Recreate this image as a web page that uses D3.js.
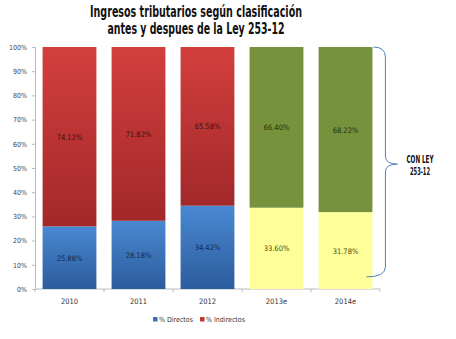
<!DOCTYPE html>
<html>
<head>
<meta charset="utf-8">
<script src="https://cdn.jsdelivr.net/npm/d3@7"></script>
<style>
  body { margin: 0; background: #fff; }
  svg { display: block; }
  text { font-family: "DejaVu Sans Condensed", "Liberation Sans", sans-serif; }
</style>
</head>
<body>
<script>
// data: share of tax income by type, per year
var years     = ['2010', '2011', '2012', '2013e', '2014e'];
var directos  = [25.88, 28.18, 34.42, 33.60, 31.78];
var indirectos = [74.12, 71.82, 65.58, 66.40, 68.22];
var estimated = [false, false, false, true, true];
var yTicks    = [0, 10, 20, 30, 40, 50, 60, 70, 80, 90, 100];
var titleLines = ['Ingresos tributarios según clasificación', 'antes y despues de la Ley 253-12'];
var legendItems = ['% Directos', '% Indirectos'];
var braceLabel = ['CON LEY', '253-12'];

var W = 456, H = 339;
var m = { top: 47, left: 35, right: 76, bottom: 50 };

var svg = d3.select('body').append('svg')
  .attr('width', W)
  .attr('height', H);

var defs = svg.append('defs');

// vertical gradients for the actual-year bars
function grad(id, c0, c1) {
  var g = defs.append('linearGradient')
    .attr('id', id)
    .attr('x1', 0).attr('y1', 0).attr('x2', 0).attr('y2', 1);
  g.append('stop').attr('offset', '0%').attr('stop-color', c0);
  g.append('stop').attr('offset', '100%').attr('stop-color', c1);
}
grad('gRed', '#d33f3d', '#a2282a');
grad('gBlue', '#4a88d2', '#2c5c9c');

var x = d3.scaleBand()
  .domain(years)
  .range([m.left, W - m.right])
  .paddingInner(0.22)
  .paddingOuter(0.11);

var y = d3.scaleLinear()
  .domain([0, 100])
  .range([H - m.bottom, m.top]);

// title, squeezed to a narrow face
var titleW = [212, 177];
svg.append('g').selectAll('text')
  .data(titleLines)
  .enter().append('text')
  .attr('x', 196)
  .attr('y', (d, i) => 17 + i * 17)
  .attr('text-anchor', 'middle')
  .attr('font-size', 15)
  .attr('font-weight', 'bold')
  .attr('fill', '#111')
  .attr('textLength', (d, i) => titleW[i])
  .attr('lengthAdjust', 'spacingAndGlyphs')
  .text(d => d);

// y axis
var yAxis = svg.append('g')
  .attr('transform', 'translate(' + m.left + ',0)')
  .call(d3.axisLeft(y).tickValues(yTicks).tickSize(3).tickFormat(d => d + '%'));
yAxis.select('.domain').attr('stroke', '#bbb');
yAxis.selectAll('.tick line').attr('stroke', '#bbb');
yAxis.selectAll('text').attr('font-size', 7).attr('fill', '#444').attr('dx', -2);

// x axis, ticks on the band boundaries
var xAxis = svg.append('g')
  .attr('transform', 'translate(0,' + y(0) + ')');
xAxis.append('line')
  .attr('x1', m.left).attr('x2', W - m.right)
  .attr('stroke', '#bbb');
xAxis.selectAll('line.tk')
  .data(years.concat(['end']))
  .enter().append('line')
  .attr('class', 'tk')
  .attr('x1', (d, i) => m.left + i * x.step())
  .attr('x2', (d, i) => m.left + i * x.step())
  .attr('y1', 0).attr('y2', 3)
  .attr('stroke', '#bbb');
xAxis.selectAll('text')
  .data(years)
  .enter().append('text')
  .attr('x', d => x(d) + x.bandwidth() / 2)
  .attr('y', 15)
  .attr('text-anchor', 'middle')
  .attr('font-size', 7.5)
  .attr('fill', '#333')
  .text(d => d);

// stacked bars
var rows = years.map((yr, i) => ({ year: yr, dir: directos[i], ind: indirectos[i], est: estimated[i] }));

var bars = svg.append('g').selectAll('g')
  .data(rows)
  .enter().append('g');

bars.append('rect')
  .attr('x', d => x(d.year))
  .attr('width', x.bandwidth())
  .attr('y', d => y(d.dir))
  .attr('height', d => y(0) - y(d.dir))
  .attr('fill', d => d.est ? '#ffff99' : 'url(#gBlue)');

bars.append('rect')
  .attr('x', d => x(d.year))
  .attr('width', x.bandwidth())
  .attr('y', d => y(d.dir + d.ind))
  .attr('height', d => y(d.dir) - y(d.dir + d.ind))
  .attr('fill', d => d.est ? '#76923c' : 'url(#gRed)');

// value labels
bars.append('text')
  .attr('x', d => x(d.year) + x.bandwidth() / 2)
  .attr('y', d => y(d.dir / 2) + 3)
  .attr('text-anchor', 'middle')
  .attr('font-size', 7.5)
  .attr('fill', d => d.est ? '#4a4a10' : '#14284a')
  .text(d => d.dir.toFixed(2) + '%');

bars.append('text')
  .attr('x', d => x(d.year) + x.bandwidth() / 2)
  .attr('y', d => y(d.dir + d.ind / 2) + 3)
  .attr('text-anchor', 'middle')
  .attr('font-size', 7.5)
  .attr('fill', d => d.est ? '#1e2e0c' : '#3c0e0e')
  .text(d => d.ind.toFixed(2) + '%');

// legend
var legend = svg.append('g').attr('transform', 'translate(153,322)');
var lx = [0, 47];
var lcol = ['#3a6fb5', '#c0393a'];
legendItems.forEach((t, i) => {
  legend.append('rect')
    .attr('x', lx[i]).attr('y', -5)
    .attr('width', 4.5).attr('height', 4.5)
    .attr('fill', lcol[i]);
  legend.append('text')
    .attr('x', lx[i] + 6).attr('y', 0)
    .attr('font-size', 7)
    .attr('fill', '#333')
    .text(t);
});

// brace around the estimated years
var bx = x('2014e') + x.bandwidth();
var bTop = y(100), bBot = y(5), bMid = y(51.6);
var cx = bx + 13;
var brace = 'M' + (bx + 1) + ',' + bTop +
  ' Q' + cx + ',' + bTop + ' ' + cx + ',' + (bTop + 10) +
  ' L' + cx + ',' + (bMid - 8) +
  ' Q' + cx + ',' + bMid + ' ' + (cx + 12) + ',' + bMid +
  ' Q' + cx + ',' + bMid + ' ' + cx + ',' + (bMid + 8) +
  ' L' + cx + ',' + (bBot - 10) +
  ' Q' + cx + ',' + bBot + ' ' + (bx - 6) + ',' + bBot;
svg.append('path')
  .attr('d', brace)
  .attr('fill', 'none')
  .attr('stroke', '#4f81bd')
  .attr('stroke-width', 1);

var braceW = [27, 20];
svg.append('g').selectAll('text')
  .data(braceLabel)
  .enter().append('text')
  .attr('x', 420)
  .attr('y', (d, i) => 163 + i * 12)
  .attr('text-anchor', 'middle')
  .attr('font-size', 11)
  .attr('font-weight', 'bold')
  .attr('fill', '#111')
  .attr('textLength', (d, i) => braceW[i])
  .attr('lengthAdjust', 'spacingAndGlyphs')
  .text(d => d);
</script>
</body>
</html>
